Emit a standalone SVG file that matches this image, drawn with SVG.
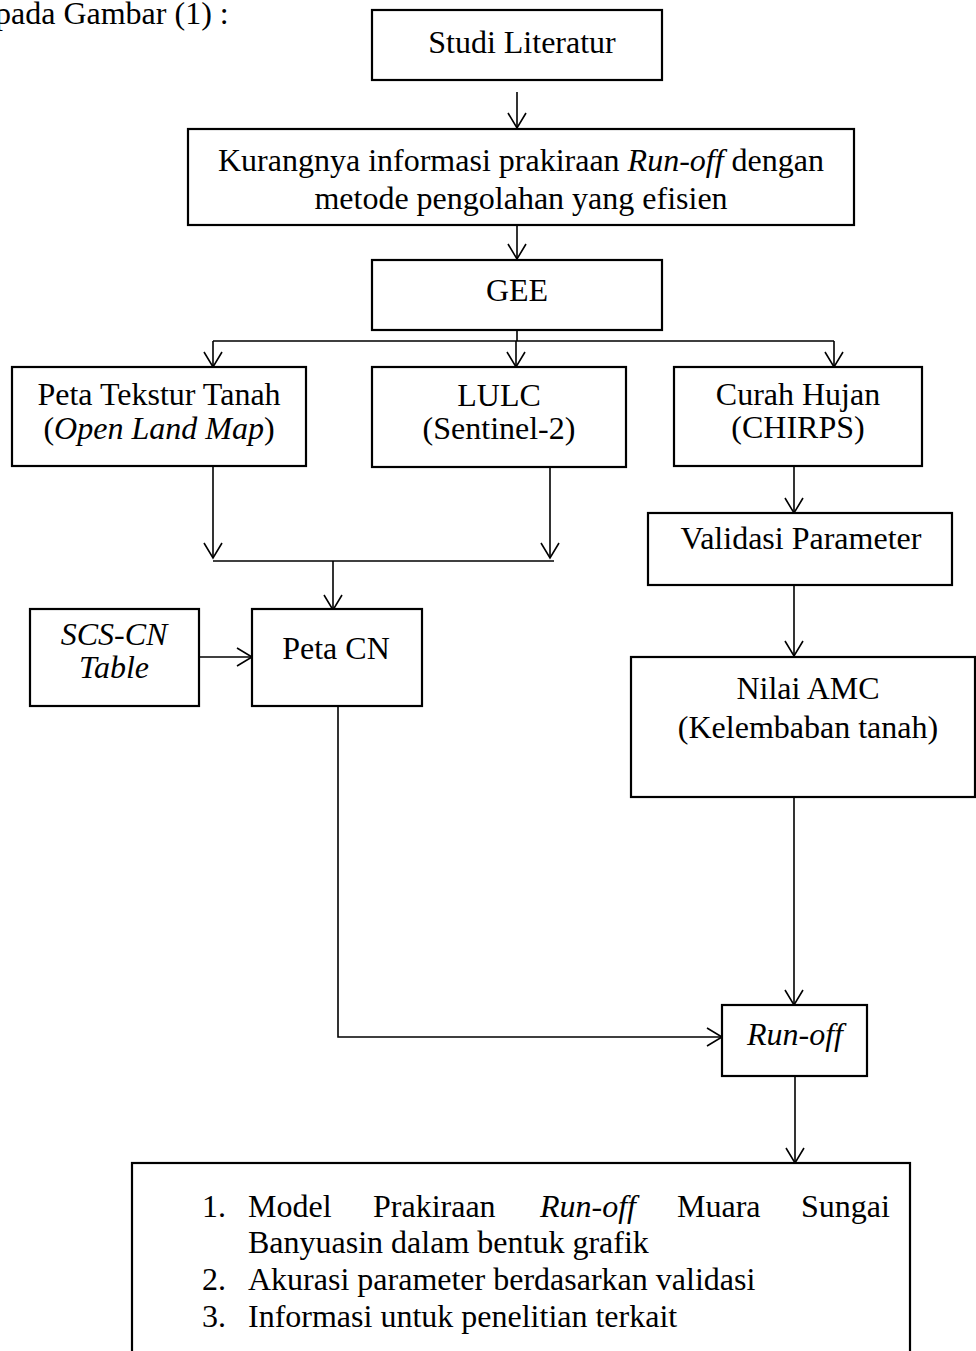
<svg xmlns="http://www.w3.org/2000/svg" width="976" height="1351" viewBox="0 0 976 1351">
<style>
.box{fill:#fff;stroke:#000;stroke-width:2.2}
.t{font-family:"Liberation Serif","Times New Roman",serif;font-size:32px;fill:#000}
.m{text-anchor:middle}
.i{font-style:italic}
.c{fill:none;stroke:#000;stroke-width:1.6}
</style>
<defs>
<marker id="ah" markerWidth="20" markerHeight="20" refX="17" refY="10" orient="auto" markerUnits="userSpaceOnUse" viewBox="0 0 20 20">
<path d="M2,1 L17,10 L2,19" fill="none" stroke="#000" stroke-width="1.6"/>
</marker>
</defs>
<rect width="976" height="1351" fill="#fff"/>
<text class="t" x="-5" y="24" font-size="29.5">pada Gambar (1) :</text>

<g id="connectors">
<path class="c" d="M517,92 V128" marker-end="url(#ah)"/>
<path class="c" d="M517,225 V259" marker-end="url(#ah)"/>
<path class="c" d="M517,330 V341 M213,341 H834"/>
<path class="c" d="M213,341 V367" marker-end="url(#ah)"/>
<path class="c" d="M516,341 V367" marker-end="url(#ah)"/>
<path class="c" d="M834,341 V367" marker-end="url(#ah)"/>
<path class="c" d="M213,466 V558" marker-end="url(#ah)"/>
<path class="c" d="M550,467 V558" marker-end="url(#ah)"/>
<path class="c" d="M213,561 H554"/>
<path class="c" d="M333,561 V610" marker-end="url(#ah)"/>
<path class="c" d="M199,657 H252" marker-end="url(#ah)"/>
<path class="c" d="M794,466 V513" marker-end="url(#ah)"/>
<path class="c" d="M794,585 V656" marker-end="url(#ah)"/>
<path class="c" d="M794,797 V1005" marker-end="url(#ah)"/>
<path class="c" d="M338,706 V1037 H722" marker-end="url(#ah)"/>
<path class="c" d="M795,1076 V1163" marker-end="url(#ah)"/>
</g>

<g id="studi">
<rect class="box" x="372" y="10" width="290" height="70"/>
<text class="t m" x="522" y="53" font-size="34">Studi Literatur</text>
</g>
<g id="kurangnya">
<rect class="box" x="188" y="129" width="666" height="96"/>
<text class="t m" x="521" y="171">Kurangnya informasi prakiraan <tspan class="i">Run-off</tspan> dengan</text>
<text class="t m" x="521" y="209">metode pengolahan yang efisien</text>
</g>
<g id="gee">
<rect class="box" x="372" y="260" width="290" height="70"/>
<text class="t m" x="517" y="301" font-size="31">GEE</text>
</g>
<g id="peta-tekstur">
<rect class="box" x="12" y="367" width="294" height="99"/>
<text class="t m" x="159" y="405" font-size="28.5">Peta Tekstur Tanah</text>
<text class="t m" x="159" y="439" font-size="28.5">(<tspan class="i">Open Land Map</tspan>)</text>
</g>
<g id="lulc">
<rect class="box" x="372" y="367" width="254" height="100"/>
<text class="t m" x="499" y="406" font-size="28.5">LULC</text>
<text class="t m" x="499" y="439" font-size="28.5">(Sentinel-2)</text>
</g>
<g id="curah">
<rect class="box" x="674" y="367" width="248" height="99"/>
<text class="t m" x="798" y="405" font-size="28.5">Curah Hujan</text>
<text class="t m" x="798" y="438" font-size="28.5">(CHIRPS)</text>
</g>
<g id="validasi">
<rect class="box" x="648" y="513" width="304" height="72"/>
<text class="t m" x="801" y="549" font-size="24">Validasi Parameter</text>
</g>
<g id="scs">
<rect class="box" x="30" y="609" width="169" height="97"/>
<text class="t m i" x="114" y="645" font-size="24">SCS-CN</text>
<text class="t m i" x="114" y="678" font-size="24">Table</text>
</g>
<g id="peta-cn">
<rect class="box" x="252" y="609" width="170" height="97"/>
<text class="t m" x="336" y="659">Peta CN</text>
</g>
<g id="amc">
<rect class="box" x="631" y="657" width="344" height="140"/>
<text class="t m" x="808" y="699">Nilai AMC</text>
<text class="t m" x="808" y="738">(Kelembaban tanah)</text>
</g>
<g id="runoff">
<rect class="box" x="722" y="1005" width="145" height="71"/>
<text class="t m i" x="795" y="1045">Run-off</text>
</g>
<g id="hasil">
<rect class="box" x="132" y="1163" width="778" height="200"/>
<text class="t" x="202" y="1217">1.</text>
<text class="t" x="248" y="1217">Model</text>
<text class="t" x="373" y="1217">Prakiraan</text>
<text class="t i" x="540" y="1217">Run-off</text>
<text class="t" x="677" y="1217">Muara</text>
<text class="t" x="801" y="1217">Sungai</text>
<text class="t" x="248" y="1253">Banyuasin dalam bentuk grafik</text>
<text class="t" x="202" y="1290">2.</text>
<text class="t" x="248" y="1290">Akurasi parameter berdasarkan validasi</text>
<text class="t" x="202" y="1327">3.</text>
<text class="t" x="248" y="1327">Informasi untuk penelitian terkait</text>
</g>
</svg>
